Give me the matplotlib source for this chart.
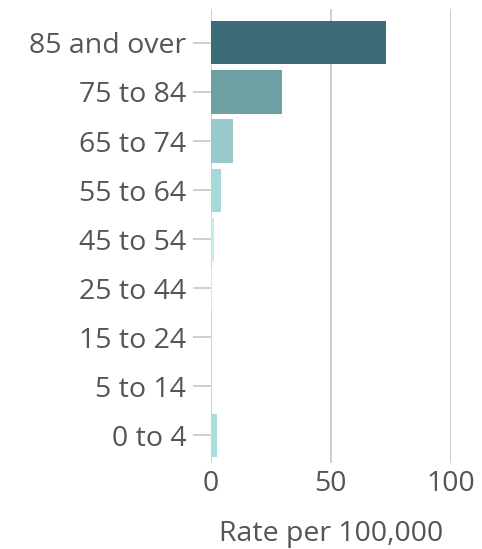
import matplotlib.pyplot as plt

# Age groups, top to bottom
age_groups = ['85 and over', '75 to 84', '65 to 74', '55 to 64', '45 to 54',
              '25 to 44', '15 to 24', '5 to 14', '0 to 4']
rates = [73.0, 29.5, 9.4, 4.3, 1.4, 0.6, 0.3, 0.1, 2.7]
bar_colors = ['#3e6b78', '#6e9fa3', '#99c9ca', '#a7d8d9', '#c3ebeb',
              '#cdeeee', '#d3f0f0', '#d8f2f2', '#aadddd']
x_ticks = [0, 50, 100]

plt.rcParams['font.family'] = ['Open Sans', 'DejaVu Sans']

fig = plt.figure(figsize=(4.82, 5.49), dpi=100)
ax = fig.add_axes([0.437, 0.1567, 0.499, 0.8269])

pos = list(range(len(age_groups)))
ax.barh(pos, rates, height=0.88, color=bar_colors, zorder=3)

ax.set_ylim(len(age_groups) - 1 + 0.56, -0.69)
ax.set_xlim(0, 100)
ax.set_yticks(pos)
ax.set_yticklabels(age_groups)
ax.set_xticks(x_ticks)

ax.grid(axis='x', color='#cccccc', linewidth=1.3, zorder=0)
for s in ax.spines.values():
    s.set_visible(False)

ax.tick_params(axis='y', length=13, width=1.3, color='#cccccc',
               labelsize=20.5, labelcolor='#555555', pad=4.5)
ax.tick_params(axis='x', length=0, labelsize=20.5, labelcolor='#555555', pad=5)
ax.set_xlabel('Rate per 100,000', fontsize=20.5, color='#555555', labelpad=16)

fig.savefig('out.png', dpi=100)
